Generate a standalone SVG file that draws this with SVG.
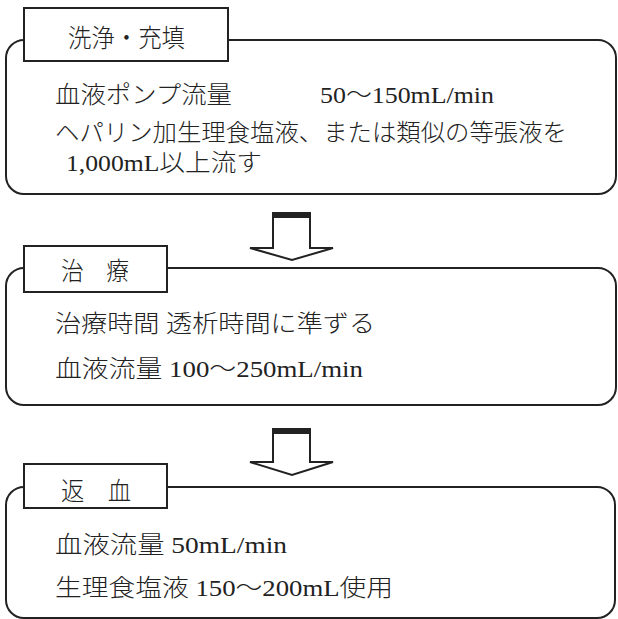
<svg xmlns="http://www.w3.org/2000/svg" width="618" height="619" viewBox="0 0 618 619">
<style>
.box{fill:#fff;stroke:#222;stroke-width:2}
.lab{fill:#fff;stroke:#222;stroke-width:2}
.arr{fill:#fff;stroke:#222;stroke-width:2;stroke-linejoin:miter}
.bar{fill:#222}
text{font-family:"Liberation Serif","Noto Sans CJK JP",serif;font-size:24px;fill:#222;font-weight:300}
.t{font-size:25px}
</style>
<rect width="618" height="619" fill="#fff"/>
<g id="connectors">
<g id="arrow1">
<polygon class="arr" points="273,217 273,248 250,248 292,260 333,248 310,248 310,217"/>
<rect class="bar" x="272" y="212" width="39" height="5"/>
</g>
<g id="arrow2">
<polygon class="arr" points="273,433 273,462 250,462 292,475 333,462 310,462 310,433"/>
<rect class="bar" x="272" y="428" width="39" height="5"/>
</g>
</g>
<g id="node1">
<rect class="box" x="6" y="40" width="610" height="154" rx="18"/>
<rect class="lab" x="24" y="8" width="204" height="53"/>
<text class="t" x="68" y="47" textLength="117" lengthAdjust="spacingAndGlyphs">洗浄・充填</text>
<text x="55" y="103" textLength="177" lengthAdjust="spacingAndGlyphs">血液ポンプ流量</text>
<text x="320" y="103" textLength="174" lengthAdjust="spacingAndGlyphs">50〜150mL/min</text>
<text x="55" y="141" textLength="512" lengthAdjust="spacingAndGlyphs">ヘパリン加生理食塩液、または類似の等張液を</text>
<text x="66" y="171" textLength="196" lengthAdjust="spacingAndGlyphs">1,000mL以上流す</text>
</g>
<g id="node2">
<rect class="box" x="6" y="268" width="610" height="137" rx="18"/>
<rect class="lab" x="24" y="246" width="143" height="46"/>
<text class="t" x="61" y="280" textLength="68" lengthAdjust="spacingAndGlyphs">治　療</text>
<text x="55" y="332" textLength="320" lengthAdjust="spacingAndGlyphs">治療時間 透析時間に準ずる</text>
<text x="55" y="377" textLength="308" lengthAdjust="spacingAndGlyphs">血液流量 100〜250mL/min</text>
</g>
<g id="node3">
<rect class="box" x="6" y="487" width="609" height="131" rx="18"/>
<rect class="lab" x="24" y="464" width="143" height="44"/>
<text class="t" x="61" y="500" textLength="70" lengthAdjust="spacingAndGlyphs">返　血</text>
<text x="55" y="553" textLength="232" lengthAdjust="spacingAndGlyphs">血液流量 50mL/min</text>
<text x="55" y="596" textLength="338" lengthAdjust="spacingAndGlyphs">生理食塩液 150〜200mL使用</text>
</g>
</svg>
